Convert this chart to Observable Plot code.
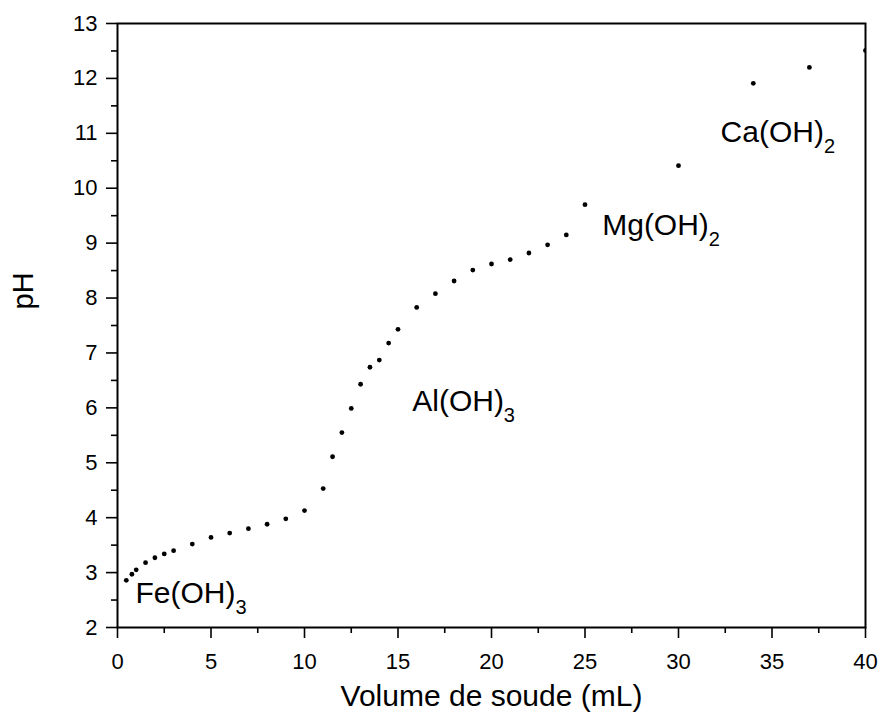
<!DOCTYPE html>
<html>
<head>
<meta charset="utf-8">
<script src="https://cdn.jsdelivr.net/npm/d3@7"></script>
<script src="https://cdn.jsdelivr.net/npm/@observablehq/plot@0.6"></script>
<style>
  body { margin: 0; background: #fff; }
</style>
</head>
<body>
<div id="chart"></div>
<script>
// Volume of NaOH added (mL)
const volume = [0.47, 0.77, 1.0, 1.5, 2.0, 2.5, 3.0, 4.0, 5.0, 6.0, 7.0, 8.0, 9.0, 10.0,
  11.0, 11.5, 12.0, 12.5, 13.0, 13.5, 14.0, 14.5, 15.0, 16.0, 17.0, 18.0, 19.0, 20.0,
  21.0, 22.0, 23.0, 24.0, 25.0, 30.0, 34.0, 37.0, 40.0];
// measured pH
const pH = [2.86, 2.97, 3.05, 3.18, 3.27, 3.34, 3.40, 3.52, 3.64, 3.72, 3.80, 3.88, 3.98, 4.13,
  4.53, 5.11, 5.55, 5.99, 6.43, 6.74, 6.87, 7.18, 7.43, 7.83, 8.08, 8.31, 8.51, 8.62,
  8.70, 8.82, 8.97, 9.15, 9.70, 10.41, 11.91, 12.20, 12.51];

const xTicks = [0, 5, 10, 15, 20, 25, 30, 35, 40];
const xMinorTicks = [2.5, 7.5, 12.5, 17.5, 22.5, 27.5, 32.5, 37.5];
const yTicks = [2, 3, 4, 5, 6, 7, 8, 9, 10, 11, 12, 13];
const yMinorTicks = [2.5, 3.5, 4.5, 5.5, 6.5, 7.5, 8.5, 9.5, 10.5, 11.5, 12.5];

const labelMain = ["Fe(OH)", "Al(OH)", "Mg(OH)", "Ca(OH)"];
const labelSub = ["3", "3", "2", "2"];
const labelX = [0.96, 15.76, 25.92, 32.25];
const labelY = [2.44, 5.94, 9.14, 10.84];

const xTitle = "Volume de soude (mL)";
const yTitle = "pH";

const points = volume.map((v, i) => ({volume: v, pH: pH[i]}));
const annotations = labelMain.map((m, i) => ({text: m + labelSub[i], x: labelX[i], y: labelY[i]}));

const svg = Plot.plot({
  width: 881,
  height: 719,
  marginLeft: 117,
  marginRight: 16,
  marginTop: 23,
  marginBottom: 92,
  style: {
    fontFamily: "'Liberation Sans', Arial, sans-serif",
    fontSize: "22px",
    color: "#000",
    background: "#fff",
    overflow: "visible"
  },
  x: {domain: [0, 40]},
  y: {domain: [2, 13]},
  marks: [
    Plot.axisX({ticks: xTicks, tickSize: 11, tickPadding: 15, strokeWidth: 1.6, fontSize: 22, label: null}),
    Plot.axisX({ticks: xMinorTicks, tickSize: 6, tickFormat: () => "", strokeWidth: 1.6, label: null}),
    Plot.axisY({ticks: yTicks, tickSize: 11, tickPadding: 9, strokeWidth: 1.6, fontSize: 22, label: null}),
    Plot.axisY({ticks: yMinorTicks, tickSize: 6, tickFormat: () => "", strokeWidth: 1.6, label: null}),
    Plot.frame({stroke: "#000", strokeWidth: 2}),
    Plot.dot(points, {x: "volume", y: "pH", r: 2.4, fill: "#000", clip: true}),
    Plot.text(annotations, {x: "x", y: "y", text: "text", textAnchor: "start", lineAnchor: "bottom", fontSize: 30, fill: "#000"}),
    Plot.text([xTitle], {text: d => d, frameAnchor: "bottom", dy: 78, lineAnchor: "bottom", fontSize: 30, fill: "#000"}),
    Plot.text([yTitle], {text: d => d, frameAnchor: "left", dx: -85, dy: -16, rotate: -90, lineAnchor: "bottom", fontSize: 29, fill: "#000"})
  ]
});

// enlarge tick labels to match the reference
svg.querySelectorAll('g[aria-label$="tick label"]').forEach(g => {
  g.setAttribute("font-size", "22");
  g.style.fontSize = "22px";
  g.querySelectorAll("text").forEach(t => t.style.fontSize = "22px");
});

// turn trailing digit of the annotation labels into a subscript
const ns = "http://www.w3.org/2000/svg";
const full = labelMain.map((m, i) => m + labelSub[i]);
svg.querySelectorAll("text").forEach(t => {
  const i = full.indexOf(t.textContent);
  if (i >= 0) {
    t.textContent = labelMain[i];
    const ts = document.createElementNS(ns, "tspan");
    ts.setAttribute("dy", "11");
    ts.setAttribute("font-size", "20");
    ts.textContent = labelSub[i];
    t.appendChild(ts);
  }
});

document.getElementById("chart").appendChild(svg);
</script>
</body>
</html>
